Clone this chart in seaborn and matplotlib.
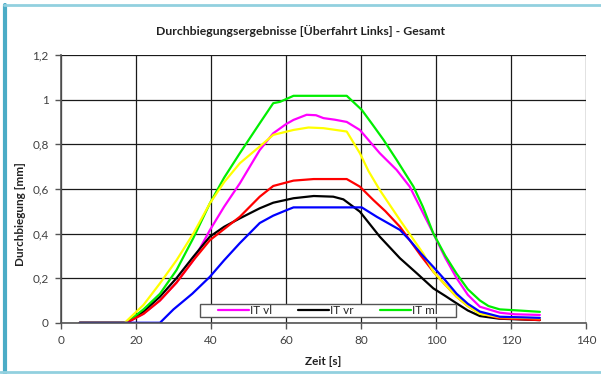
import numpy as np
import pandas as pd
import seaborn as sns
import matplotlib.pyplot as plt
from matplotlib.lines import Line2D
from matplotlib.patches import Rectangle
from matplotlib.ticker import FuncFormatter

# series (Zeit [s] / Durchbiegung [mm])
t_vl = [5, 17.5, 22, 26.4, 30.8, 35.3, 39.7, 43.5, 47.7, 53, 56.6, 60, 62, 65.5, 68, 70, 73, 76.2,
        79.7, 85, 89.5, 93, 96, 99.3, 102.5, 105.5, 108.5, 111.7, 117, 121, 127.7]
y_vl = [0, 0, 0.04, 0.10, 0.18, 0.28, 0.415, 0.52, 0.625, 0.774, 0.849, 0.89, 0.909, 0.932, 0.93,
        0.917, 0.91, 0.90, 0.864, 0.76, 0.685, 0.61, 0.51, 0.40, 0.29, 0.20, 0.125, 0.072, 0.045,
        0.038, 0.035]

t_vr = [5, 17.5, 22, 26.4, 30.8, 35.3, 39.7, 43.5, 47.7, 53, 56.6, 62, 67.4, 72.6, 75.3, 79.7, 85,
        90.4, 95, 99.3, 102.5, 105.5, 108.5, 111.7, 117, 127.7]
y_vr = [0, 0, 0.05, 0.117, 0.20, 0.296, 0.386, 0.43, 0.468, 0.513, 0.538, 0.558, 0.568, 0.565,
        0.553, 0.498, 0.386, 0.289, 0.22, 0.154, 0.12, 0.087, 0.055, 0.03, 0.018, 0.012]

t_ml = [5, 17.5, 22, 26.4, 30.8, 35.3, 39.7, 43.5, 47.7, 53, 56.6, 58.4, 62, 66, 70, 76.2, 80.2,
        83, 86, 89.5, 94, 96.5, 99.3, 102.5, 105.5, 108.5, 111.7, 114, 117, 122, 127.7]
y_ml = [0, 0, 0.06, 0.13, 0.236, 0.38, 0.535, 0.65, 0.76, 0.894, 0.984, 0.99, 1.017, 1.017, 1.017,
        1.017, 0.954, 0.89, 0.82, 0.73, 0.61, 0.52, 0.40, 0.30, 0.22, 0.15, 0.10, 0.075, 0.06,
        0.055, 0.049]

t_red = [5, 17.5, 22, 26.4, 30.8, 35.3, 39.7, 43.5, 47.7, 53, 56.6, 62, 67.4, 72, 76.2, 79.7, 83.3,
         86.5, 90.4, 93, 96, 99.3, 102.5, 105.5, 108.5, 111.7, 117, 127.7]
y_red = [0, 0, 0.04, 0.10, 0.18, 0.28, 0.37, 0.42, 0.475, 0.565, 0.613, 0.637, 0.644, 0.644, 0.644,
         0.61, 0.55, 0.50, 0.43, 0.37, 0.30, 0.229, 0.17, 0.117, 0.075, 0.042, 0.02, 0.012]

t_yel = [5, 17, 22, 26.4, 30.8, 35.3, 39.7, 43.5, 47.7, 53, 56.6, 62, 66, 70, 76.2, 79.7, 82, 85,
         90.4, 96.6, 99.3, 102.5, 105.5, 108.5, 111.7, 117, 127.7]
y_yel = [0, 0, 0.08, 0.177, 0.28, 0.40, 0.535, 0.63, 0.715, 0.79, 0.842, 0.864, 0.875, 0.872,
         0.857, 0.76, 0.68, 0.595, 0.46, 0.31, 0.229, 0.17, 0.117, 0.075, 0.04, 0.025, 0.02]

t_blue = [5, 26.4, 30, 35, 39.7, 43.5, 47.7, 53, 56.6, 60.2, 62, 70, 80.2, 84.2, 90.4, 93, 96, 99.3,
          102.5, 105.5, 108.5, 111.7, 117, 127.7]
y_blue = [0, 0, 0.06, 0.13, 0.206, 0.28, 0.357, 0.447, 0.48, 0.505, 0.517, 0.517, 0.517, 0.475,
          0.416, 0.37, 0.31, 0.25, 0.19, 0.13, 0.085, 0.05, 0.027, 0.022]

series = [
    ("IT vl", t_vl, y_vl, "#ff00ff"),
    ("IT vr", t_vr, y_vr, "#000000"),
    ("IT ml", t_ml, y_ml, "#00ee00"),
    ("rot", t_red, y_red, "#ff0000"),
    ("gelb", t_yel, y_yel, "#ffff00"),
    ("blau", t_blue, y_blue, "#0000ff"),
]
legend_names = ["IT vl", "IT vr", "IT ml"]

sns.set_style("white")
plt.rcParams['font.family'] = ['Lato', 'DejaVu Sans']

fig = plt.figure(figsize=(6.01, 3.74), dpi=100)
ax = fig.add_axes([0.1015, 0.137, 0.8735, 0.716])

handles = []
for name, t, y, col in series:
    sns.lineplot(x=t, y=y, color=col, lw=1.6, ax=ax, sort=False, estimator=None)
    if name in legend_names:
        handles.append(Line2D([], [], color=col, lw=1.6, label=name))

ax.set_xlim(0, 140)
ax.set_ylim(0, 1.2)
ax.set_xticks(np.arange(0, 141, 20))
ax.set_yticks(np.arange(0, 1.21, 0.2))
ax.yaxis.set_major_formatter(FuncFormatter(lambda v, p: f"{v:.1f}".rstrip('0').rstrip('.').replace('.', ',')))
ax.grid(True, color="#1a1a1a", lw=0.9)
ax.set_axisbelow(True)
for s in ["top", "right"]:
    ax.spines[s].set_visible(False)
for s in ["left", "bottom"]:
    ax.spines[s].set_color("#555555")
    ax.spines[s].set_linewidth(1.2)
ax.tick_params(axis="both", direction="out", length=4, width=1, color="#555555",
               labelsize=8.5, labelcolor="#404040", bottom=True, left=True, pad=5)

ax.set_xlabel("Zeit [s]", fontsize=8.5, fontweight="bold", color="#222222", labelpad=7)
ax.set_ylabel("Durchbiegung [mm]", fontsize=8.5, fontweight="bold", color="#222222")
ax.yaxis.set_label_coords(-0.066, 0.406)
fig.text(0.5, 0.918, "Durchbiegungsergebnisse [Überfahrt Links] - Gesamt", ha="center",
         va="center", fontsize=8.8, fontweight="bold", color="#222222")

# legend box (white, square corners) sitting on top of the curves
ax.add_patch(Rectangle((0.265, 0.021), 0.487, 0.049, transform=ax.transAxes, facecolor="white",
                       edgecolor="#555555", lw=1, zorder=5))
leg = ax.legend(handles=handles, ncol=3, loc="center", bbox_to_anchor=(0.5086, 0.0456),
                fontsize=8.5, frameon=False, borderpad=0, handlelength=2.6,
                handletextpad=0.1, columnspacing=2.2, borderaxespad=0)
leg.set_zorder(6)

# light blue frame around the chart
fig.add_artist(Line2D([0.009, 0.009], [0.0, 0.987], transform=fig.transFigure, color="#4bacc6", lw=3))
fig.add_artist(Line2D([0.007, 1.0], [0.987, 0.987], transform=fig.transFigure, color="#92d0df", lw=2))
fig.add_artist(Line2D([0.0, 1.0], [0.006, 0.006], transform=fig.transFigure, color="#92d0df", lw=2))

fig.savefig("out.png", dpi=100)
